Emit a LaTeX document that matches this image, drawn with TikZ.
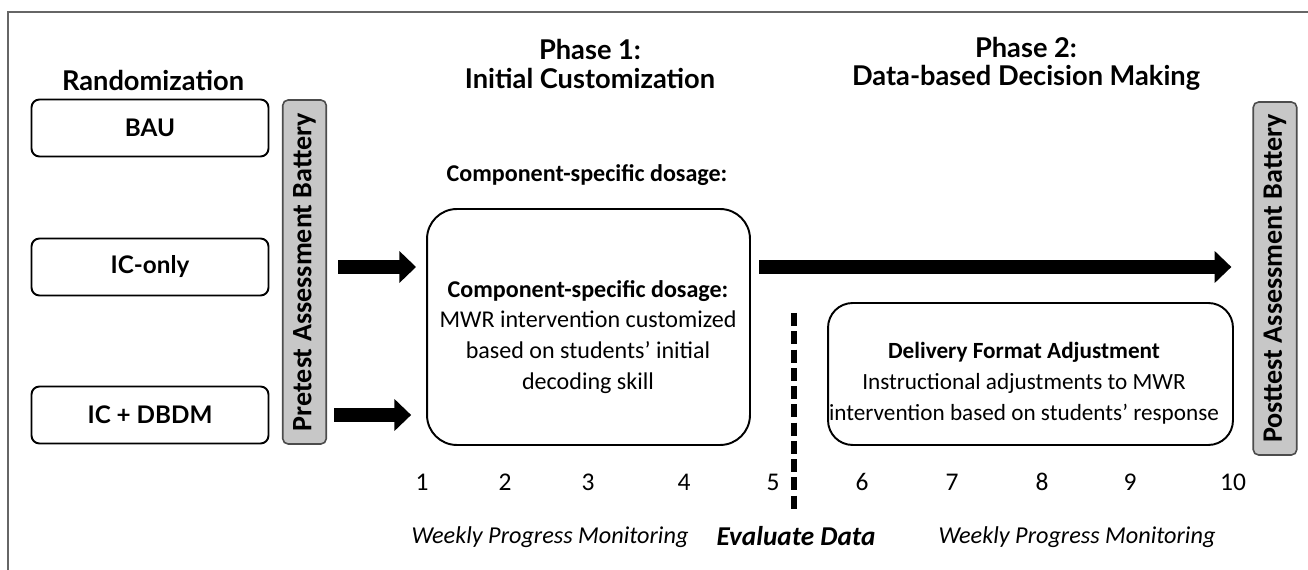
\documentclass[tikz,border=0pt]{standalone}
\usepackage{fontspec}
\setmainfont{Carlito}
\newfontfamily\gillfont{Lato}
\usetikzlibrary{arrows.meta}

\begin{document}
\begin{tikzpicture}[x=0.02cm, y=-0.02cm,
    grp/.style={draw, line width=1.1pt, rounded corners=4.5pt, minimum width=4.74cm, minimum height=1.14cm, font=\gillfont\bfseries\fontsize{13.8}{15}\selectfont},
    bar/.style={draw=black!70, fill=black!22, line width=0.9pt, rounded corners=3pt, rotate=90, minimum height=0.87cm, font=\bfseries\fontsize{16}{18}\selectfont},
    phase/.style={draw, line width=1.1pt},
    bigarrow/.style={line width=8.5pt, -{Triangle[length=9.5pt,width=17.6pt]}},
    title/.style={align=center, font=\gillfont\bfseries\fontsize{15.5}{16}\selectfont},
    body/.style={align=center, font=\fontsize{13.7}{17.6}\selectfont},
    week/.style={font=\fontsize{14.5}{16}\selectfont},
    mon/.style={font=\itshape\fontsize{13.8}{15}\selectfont}]
    \useasboundingbox (0,0) rectangle (1308,570);
    \draw[black!60, line width=1.2pt] (8,570) -- (8,12) -- (1308,12);

    % column titles
    \node[title] (rand) at (153,80) {Randomization};
    \node[title] (ph1title) at (590,64) {Phase 1:\\Initial Customization};
    \node[title] (ph2title) at (1026,64) {Phase 2:\\Data-based Decision Making};

    % study groups
    \node[grp] (bau) at (150,128) {BAU};
    \node[grp] (iconly) at (150,267) {IC-only};
    \node[grp] (icdbdm) at (150,415) {IC + DBDM};

    % assessment bars
    \node[bar, minimum width=6.88cm] (pre) at (304.5,272) {Pretest Assessment Battery};
    \node[bar, minimum width=7.06cm] (post) at (1275,278.5) {Posttest Assessment Battery};

    % phase 1
    \node[body, font=\bfseries\fontsize{13.7}{15}\selectfont] (dose) at (587,175) {Component-specific dosage:};
    \node[phase, rounded corners=17pt, minimum width=6.46cm, minimum height=4.72cm] (ph1) at (588.5,327) {};
    \node[body] (ph1txt) at (588,337) {\textbf{Component-specific dosage:}\\MWR intervention customized\\based on students' initial\\decoding skill};

    % phase 2
    \node[phase, rounded corners=14pt, minimum width=8.1cm, minimum height=2.84cm] (ph2) at (1030.5,374) {};
    \node[body, font=\fontsize{13.2}{17.6}\selectfont] (ph2txt) at (1024,383) {\textbf{Delivery Format Adjustment}\\Instructional adjustments to MWR\\intervention based on students' response};

    % arrows
    \draw[bigarrow, shorten <=6.3pt, shorten >=5.7pt] (pre.south |- iconly) -- (ph1.west |- iconly);
    \draw[bigarrow, shorten <=4pt, shorten >=8.5pt] (pre.south |- icdbdm) -- (ph1.west |- icdbdm);
    \draw[bigarrow, shorten <=4.6pt, shorten >=12pt] (ph1.east |- iconly) -- (post.north |- iconly);

    % evaluation point
    \coordinate (evtop) at (794,313);
    \coordinate (evbot) at (794,510);
    \draw[line width=3.2pt, dash pattern=on 7.4pt off 3pt] (evtop) -- (evbot);

    % weeks
    \foreach \w/\x in {1/422,2/505,3/588,4/684,5/773,6/862,7/952,8/1042,9/1130,10/1233} {
        \node[week] (wk\w) at (\x,482) {\w};
    }
    \node[mon] (mon1) at (550,537) {Weekly Progress Monitoring};
    \node[mon, font=\bfseries\itshape\fontsize{15.5}{16}\selectfont] (evdata) at (796,536) {Evaluate Data};
    \node[mon] (mon2) at (1077,537) {Weekly Progress Monitoring};
\end{tikzpicture}
\end{document}
